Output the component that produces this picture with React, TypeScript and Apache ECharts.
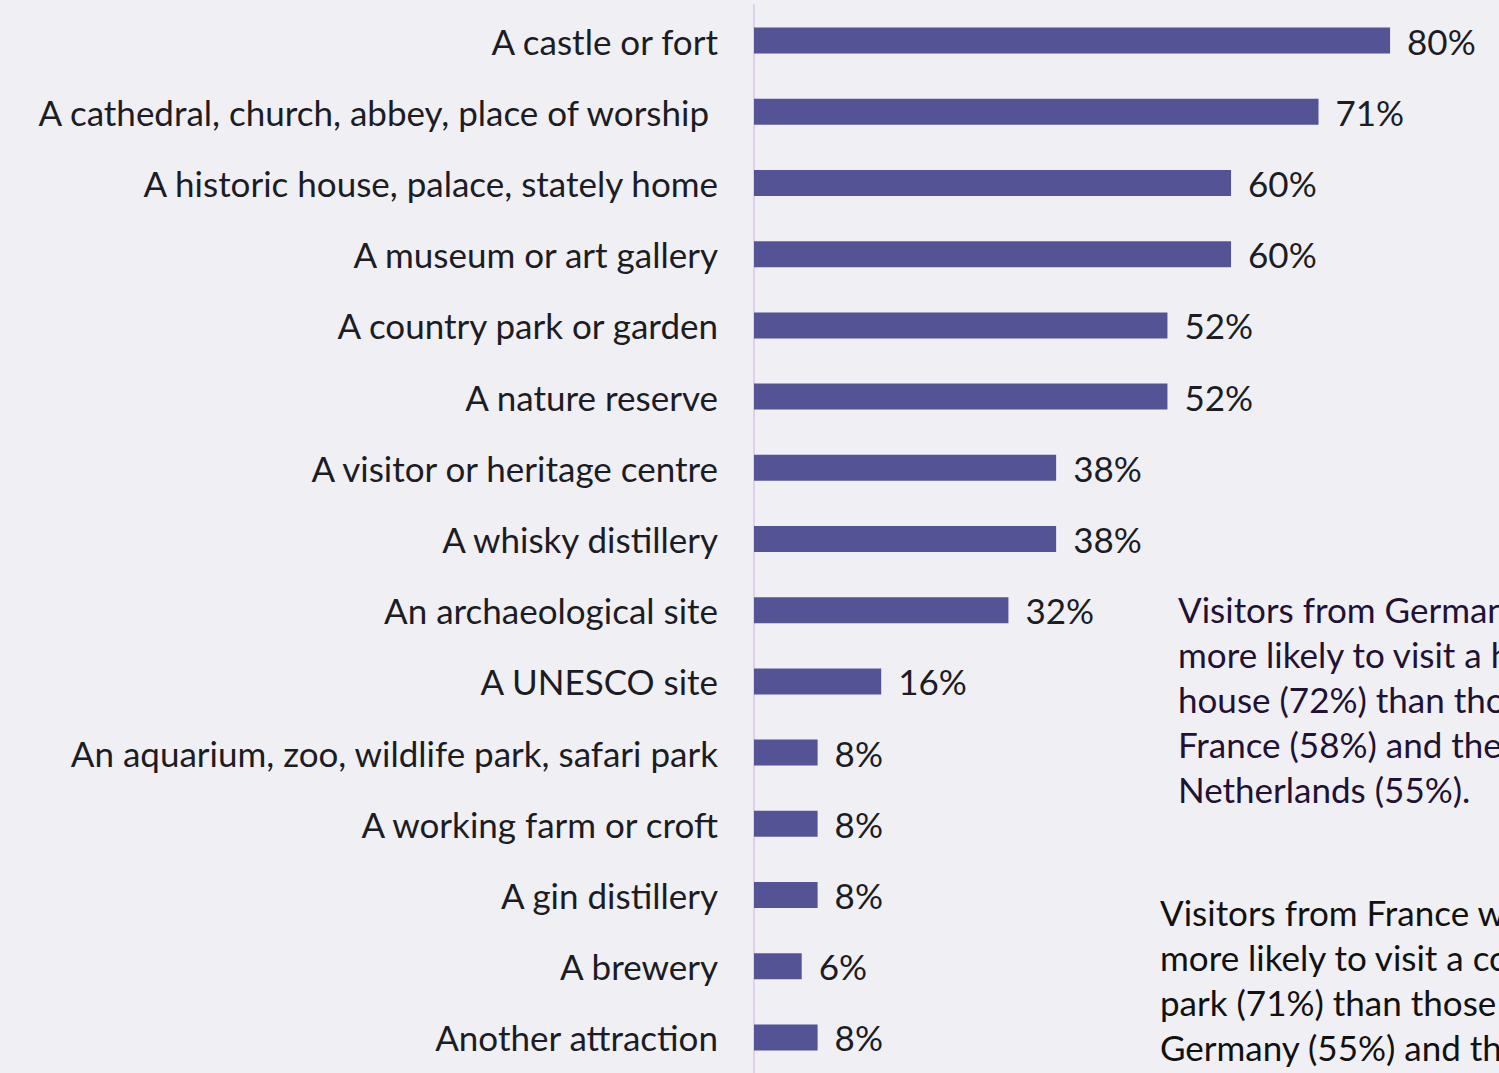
import React, { useEffect, useRef } from "react";
import * as echarts from "echarts";

const categories = [
  "A castle or fort",
  "A cathedral, church, abbey, place of worship ",
  "A historic house, palace, stately home",
  "A museum or art gallery",
  "A country park or garden",
  "A nature reserve",
  "A visitor or heritage centre",
  "A whisky distillery",
  "An archaeological site",
  "A UNESCO site",
  "An aquarium, zoo, wildlife park, safari park",
  "A working farm or croft",
  "A gin distillery",
  "A brewery",
  "Another attraction",
];
const values = [80, 71, 60, 60, 52, 52, 38, 38, 32, 16, 8, 8, 8, 6, 8];

const note1 = [
  "Visitors from Germany were",
  "more likely to visit a historic",
  "house (72%) than those from",
  "France (58%) and the",
  "Netherlands (55%).",
];
const note2 = [
  "Visitors from France were",
  "more likely to visit a country",
  "park (71%) than those from",
  "Germany (55%) and the",
];

const FONT = "Lato";

export default function App() {
  const ref = useRef<HTMLDivElement>(null);
  useEffect(() => {
    document.body.style.margin = "0";
    const chart = echarts.init(ref.current!, undefined, { renderer: "svg" });
    chart.setOption({
      animation: false,
      backgroundColor: "#f0eff4",
      grid: { left: 754, right: 0, top: 5, bottom: -6, containLabel: false },
      xAxis: {
        type: "value",
        min: 0,
        max: 93.7,
        show: false,
      },
      yAxis: {
        type: "category",
        data: categories,
        inverse: true,
        axisLine: { show: true, lineStyle: { color: "#dcd0ee", width: 2 } },
        axisTick: { show: false },
        axisLabel: {
          margin: 36,
          fontFamily: FONT,
          fontSize: 35,
          color: "#1c1c24",
          padding: [0, 0, 5, 0],
        },
      },
      series: [
        {
          type: "bar",
          data: values,
          barWidth: 26,
          itemStyle: { color: "#535396" },
          label: {
            show: true,
            position: "right",
            distance: 17,
            formatter: "{c}%",
            fontFamily: FONT,
            fontSize: 35,
            color: "#1c1c24",
            offset: [0, 0],
          },
        },
      ],
      graphic: [
        {
          type: "text",
          left: 1178,
          top: 586,
          style: {
            text: note1.join("\n"),
            fontFamily: FONT,
            fontSize: 35,
            lineHeight: 45,
            fill: "#1f1235",
          },
        },
        {
          type: "text",
          left: 1160,
          top: 889,
          style: {
            text: note2.join("\n"),
            fontFamily: FONT,
            fontSize: 35,
            lineHeight: 45,
            fill: "#111111",
          },
        },
      ],
    });
    return () => chart.dispose();
  }, []);
  return (
    <div
      ref={ref}
      style={{ position: "fixed", left: 0, top: 0, width: 1499, height: 1073 }}
    />
  );
}
